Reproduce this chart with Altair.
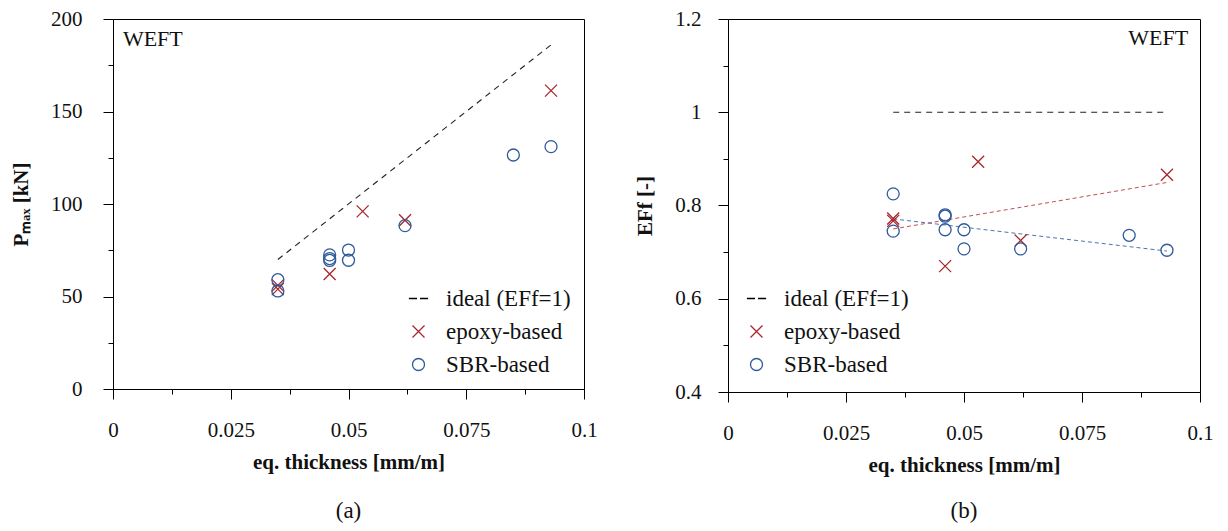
import altair as alt
import pandas as pd

# ---- data ----
t_epoxy = [0.035, 0.035, 0.046, 0.053, 0.062, 0.093]
p_epoxy = [54.0, 56.0, 62.2, 96.0, 91.2, 161.3]
ef_epoxy = [0.772, 0.767, 0.670, 0.894, 0.725, 0.866]

t_sbr = [0.035, 0.035, 0.046, 0.046, 0.046, 0.050, 0.050, 0.062, 0.085, 0.093]
p_sbr = [59.1, 53.0, 72.5, 70.5, 69.5, 75.1, 69.6, 88.3, 126.5, 131.0]
ef_sbr = [0.825, 0.745, 0.780, 0.777, 0.748, 0.748, 0.707, 0.707, 0.736, 0.704]

t_ideal = [0.035, 0.093]
p_ideal = [70.0, 186.0]
ef_ideal = [1.0, 1.0]

series_names = ["ideal (EFf=1)", "epoxy-based", "SBR-based"]
series_colors = ["#000000", "#a8262b", "#2f5a9a"]
series_shapes = ["M-1.6,0H-0.25M0.25,0H1.6", "M-1,-1L1,1M1,-1L-1,1", "circle"]

x_ticks = [0, 0.0125, 0.025, 0.0375, 0.05, 0.0625, 0.075, 0.0875, 0.1]
p_ticks = [0, 25, 50, 75, 100, 125, 150, 175, 200]
ef_ticks = [0.4, 0.5, 0.6, 0.7, 0.8, 0.9, 1.0, 1.1, 1.2]

panel_label = ["(a)", "(b)"]
note_text = "WEFT"

# ---- tables ----
pts = pd.DataFrame({
    "t": t_epoxy + t_sbr,
    "p": p_epoxy + p_sbr,
    "ef": ef_epoxy + ef_sbr,
    "series": ["epoxy-based"] * len(t_epoxy) + ["SBR-based"] * len(t_sbr),
})
ideal = pd.DataFrame({"t": t_ideal, "p": p_ideal, "ef": ef_ideal})
note_a = pd.DataFrame({"t": [0.0021], "p": [185.5], "label": [note_text]})
note_b = pd.DataFrame({"t": [0.0975], "ef": [1.145], "label": [note_text]})

FONT = "'Liberation Serif', 'Times New Roman', Tinos, serif"

X_MAJOR = "abs(datum.value*40 - round(datum.value*40)) < 1e-6"
P_MAJOR = "datum.value % 50 == 0"
EF_MAJOR = "abs(datum.value*5 - round(datum.value*5)) < 1e-6"


def x_axis():
    return alt.Axis(
        values=x_ticks,
        labelExpr=X_MAJOR + " ? '' + datum.value : ''",
        tickSize={"condition": {"test": X_MAJOR, "value": 10}, "value": 5},
        title="eq. thickness [mm/m]",
        labelPadding=20,
        titlePadding=11,
        labelFlush=False,
        labelOverlap=False,
    )


x_scale = alt.Scale(domain=[0, 0.1], nice=False, zero=False)
color_scale = alt.Scale(domain=series_names, range=series_colors)
shape_scale = alt.Scale(domain=series_names, range=series_shapes)


def legend(lx, ly):
    return alt.Legend(
        title=None,
        orient="none",
        legendX=lx,
        legendY=ly,
        labelFont=FONT,
        labelFontSize=23,
        labelColor="#111111",
        symbolSize=144,
        symbolStrokeWidth=1.3,
        labelOffset=16,
        rowPadding=9,
        padding=0,
    )


# ---- panel (a) ----
p_scale = alt.Scale(domain=[0, 200], nice=False)
p_axis = alt.Axis(
    values=p_ticks,
    labelExpr=P_MAJOR + " ? '' + datum.value : ''",
    tickSize={"condition": {"test": P_MAJOR, "value": 10}, "value": 5},
    title="Pₘₐₓ [kN]",
    labelPadding=21,
    titlePadding=19,
    labelFlush=False,
    labelOverlap=False,
)

ideal_a = alt.Chart(ideal).mark_line(strokeDash=[6, 5], strokeWidth=1.1, color="#222222").encode(
    x=alt.X("t:Q", scale=x_scale, axis=x_axis()),
    y=alt.Y("p:Q", scale=p_scale, axis=p_axis),
)
points_a = alt.Chart(pts).mark_point(filled=False, size=144, strokeWidth=1.3, opacity=1).encode(
    x=alt.X("t:Q", scale=x_scale),
    y=alt.Y("p:Q", scale=p_scale),
    color=alt.Color("series:N", scale=color_scale, legend=legend(294, 268)),
    shape=alt.Shape("series:N", scale=shape_scale, legend=legend(294, 268)),
)
text_a = alt.Chart(note_a).mark_text(align="left", baseline="alphabetic", font=FONT, fontSize=22, color="#111111").encode(
    x=alt.X("t:Q", scale=x_scale), y=alt.Y("p:Q", scale=p_scale), text="label:N"
)
panel_a = alt.layer(ideal_a, points_a, text_a).properties(
    width=471, height=370,
    title=alt.TitleParams(panel_label[0], orient="bottom", anchor="middle", font=FONT, fontSize=23,
                          fontWeight="normal", offset=28, color="#111111"),
)

# ---- panel (b) ----
ef_scale = alt.Scale(domain=[0.4, 1.2], nice=False, zero=False)
ef_axis = alt.Axis(
    values=ef_ticks,
    labelExpr=EF_MAJOR + " ? '' + datum.value : ''",
    tickSize={"condition": {"test": EF_MAJOR, "value": 10}, "value": 5},
    title="EFf [-]",
    labelPadding=17,
    titlePadding=19,
    labelFlush=False,
    labelOverlap=False,
)

ideal_b = alt.Chart(ideal).mark_line(strokeDash=[6, 5], strokeWidth=1.1, color="#222222").encode(
    x=alt.X("t:Q", scale=x_scale, axis=x_axis()),
    y=alt.Y("ef:Q", scale=ef_scale, axis=ef_axis),
)
trend_epoxy = alt.Chart(pts).transform_filter(alt.datum.series == "epoxy-based").transform_regression(
    "t", "ef"
).mark_line(strokeDash=[4, 3], strokeWidth=1, color="#c0504d").encode(
    x=alt.X("t:Q", scale=x_scale), y=alt.Y("ef:Q", scale=ef_scale)
)
trend_sbr = alt.Chart(pts).transform_filter(alt.datum.series == "SBR-based").transform_regression(
    "t", "ef"
).mark_line(strokeDash=[4, 3], strokeWidth=1, color="#4f74ab").encode(
    x=alt.X("t:Q", scale=x_scale), y=alt.Y("ef:Q", scale=ef_scale)
)
points_b = alt.Chart(pts).mark_point(filled=False, size=144, strokeWidth=1.3, opacity=1).encode(
    x=alt.X("t:Q", scale=x_scale),
    y=alt.Y("ef:Q", scale=ef_scale),
    color=alt.Color("series:N", scale=color_scale, legend=legend(17, 268)),
    shape=alt.Shape("series:N", scale=shape_scale, legend=legend(17, 268)),
)
text_b = alt.Chart(note_b).mark_text(align="right", baseline="alphabetic", font=FONT, fontSize=22, color="#111111").encode(
    x=alt.X("t:Q", scale=x_scale), y=alt.Y("ef:Q", scale=ef_scale), text="label:N"
)
panel_b = alt.layer(ideal_b, trend_epoxy, trend_sbr, points_b, text_b).properties(
    width=472, height=373,
    title=alt.TitleParams(panel_label[1], orient="bottom", anchor="middle", font=FONT, fontSize=23,
                          fontWeight="normal", offset=25, color="#111111"),
)

chart = alt.hconcat(panel_a, panel_b, spacing=36).resolve_scale(
    color="independent", shape="independent"
).resolve_legend(color="independent", shape="independent").properties(
    padding={"left": 10, "top": 7, "right": 10, "bottom": 5},
    background="white",
).configure_view(
    stroke="#000000", strokeWidth=1
).configure_axis(
    domainColor="#000000", tickColor="#000000", labelColor="#111111", titleColor="#111111",
    labelFont=FONT, titleFont=FONT, labelFontSize=21, titleFontSize=21, titleFontWeight="bold",
    grid=False, domainWidth=1, tickWidth=1,
)

chart.save("out.html", embed_options={"renderer": "svg", "actions": False})
